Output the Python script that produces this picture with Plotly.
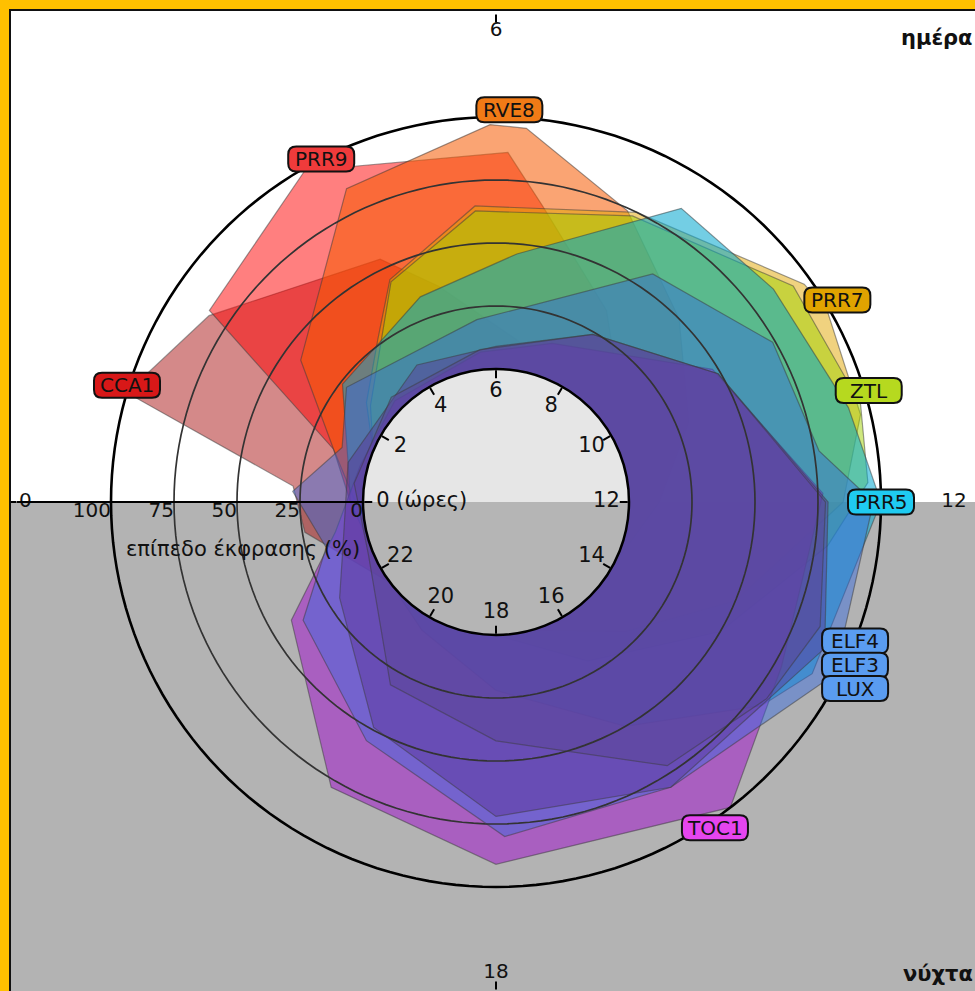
import math
import plotly.graph_objects as go

# ---------------- data: relative expression (% of peak) vs time of day (h) ----------------
GENES = ["CCA1", "PRR9", "RVE8", "PRR7", "ZTL", "PRR5", "TOC1", "LUX", "ELF3", "ELF4"]

CCA1_HOURS = [21.5, 23.4, 0.3, 1.1, 2.2, 4.3, 5.0, 6.5, 8.0, 12.0, 16.0]
CCA1_LEVEL = [0, 24, 28, 100, 83, 54, 36, 12, 0, 0, 0]

PRR9_HOURS = [22.0, 0.0, 1.2, 2.25, 4.0, 6.13, 6.6, 8.0, 9.5, 11.0, 14.0, 18.0]
PRR9_LEVEL = [0, 5, 15, 84, 99, 86, 66, 35, 10, 0, 0, 0]

RVE8_HOURS = [22.0, 0.0, 1.2, 2.4, 4.3, 5.94, 6.31, 7.62, 9.0, 10.5, 12.0, 14.0, 18.0]
RVE8_LEVEL = [0, 3, 15, 43, 85, 97, 96, 74, 50, 30, 12, 0, 0]

PRR7_HOURS = [1.5, 2.5, 3.6, 4.3, 5.73, 7.73, 9.65, 10.0, 11.1, 12.0, 13.5, 15.0, 17.0, 21.0]
PRR7_LEVEL = [0, 12, 27, 45, 65, 75, 97, 99, 96, 85, 50, 20, 0, 0]

ZTL_HOURS = [1.5, 2.5, 3.6, 4.3, 5.73, 7.7, 9.6, 11.0, 11.8, 12.5, 14.0, 16.0, 18.0, 22.0]
ZTL_LEVEL = [0, 10, 25, 44, 63, 73, 93, 97, 95, 80, 50, 20, 0, 0]

PRR5_HOURS = [22.0, 0.0, 1.0, 2.5, 4.65, 6.32, 8.15, 9.5, 11.0, 12.0, 13.9, 14.5, 16.0, 18.0, 20.0]
PRR5_LEVEL = [0, 5, 8, 24, 34, 46, 85, 86, 92, 100, 90, 80, 50, 22, 6]

TOC1_HOURS = [1.0, 3.0, 5.6, 7.3, 9.9, 11.9, 14.0, 15.5, 18.0, 20.0, 22.0, 23.3]
TOC1_LEVEL = [3, 4, 7, 14, 48, 77, 78, 100, 91, 78, 41, 12]

LUX_HOURS = [23.0, 0.2, 1.3, 2.5, 5.6, 8.3, 10.0, 11.4, 12.0, 13.8, 15.9, 17.9, 19.9, 21.9]
LUX_LEVEL = [17, 28, 12, 22, 20, 57, 74, 77, 97, 98, 80, 80, 55, 37]

ELF3_HOURS = [23.0, 1.0, 4.0, 6.0, 8.0, 10.0, 12.0, 13.6, 15.9, 18.0, 19.9, 21.9]
ELF3_LEVEL = [10, 8, 10, 9, 24, 49, 79, 90, 80, 72, 49, 20]

ELF4_HOURS = [22.5, 0.5, 3.0, 5.6, 8.0, 10.0, 12.0, 13.4, 14.4, 15.8, 18.0, 20.0]
ELF4_LEVEL = [2, 4, 6, 8, 24, 49, 78, 85, 80, 72, 42, 31]

SERIES = {
    "CCA1": (CCA1_HOURS, CCA1_LEVEL),
    "PRR9": (PRR9_HOURS, PRR9_LEVEL),
    "RVE8": (RVE8_HOURS, RVE8_LEVEL),
    "PRR7": (PRR7_HOURS, PRR7_LEVEL),
    "ZTL": (ZTL_HOURS, ZTL_LEVEL),
    "PRR5": (PRR5_HOURS, PRR5_LEVEL),
    "TOC1": (TOC1_HOURS, TOC1_LEVEL),
    "LUX": (LUX_HOURS, LUX_LEVEL),
    "ELF3": (ELF3_HOURS, ELF3_LEVEL),
    "ELF4": (ELF4_HOURS, ELF4_LEVEL),
}

HOUR_TICKS = [0, 2, 4, 6, 8, 10, 12, 14, 16, 18, 20, 22]
HOUR_TEXT = ["0 (ώρες)", "2", "4", "6", "8", "10", "12", "14", "16", "18", "20", "22"]
LEVEL_TICKS = [0, 25, 50, 75, 100]
LEVEL_TEXT = ["0", "25", "50", "75", "100"]
CLOCK_TICKS = [0, 6, 12, 18]
CLOCK_TEXT = ["0", "6", "12", "18"]

# ---------------- styling ----------------
FILL = {
    "CCA1": "rgba(170,20,20,0.50)",
    "PRR9": "rgba(255,0,0,0.50)",
    "RVE8": "rgba(245,90,0,0.55)",
    "PRR7": "rgba(225,165,0,0.50)",
    "ZTL": "rgba(160,210,0,0.50)",
    "PRR5": "rgba(0,165,205,0.55)",
    "TOC1": "rgba(165,50,200,0.65)",
    "LUX": "rgba(50,105,225,0.45)",
    "ELF3": "rgba(90,50,150,0.45)",
    "ELF4": "rgba(90,70,150,0.50)",
}
TAG = {
    "CCA1": "#d81818", "PRR9": "#ef3b3b", "RVE8": "#f07a16", "PRR7": "#e0a300",
    "ZTL": "#b6d91f", "PRR5": "#1fcbf1", "ELF4": "#5a9cf0", "ELF3": "#5a9cf0",
    "LUX": "#5a9cf0", "TOC1": "#e545ef",
}
# where each name tag sits: (hour, % level)
TAG_AT = {
    "CCA1": (1.17, 100.8), "PRR9": (4.2, 100.0), "RVE8": (6.13, 103.0),
    "PRR7": (9.96, 104.6), "ZTL": (10.89, 101.6), "PRR5": (12.0, 100.0),
    "ELF4": (13.41, 100.0), "ELF3": (13.63, 103.7), "LUX": (13.83, 107.8),
    "TOC1": (15.74, 103.0),
}

W, H = 975, 991
CX, CY = 496, 502          # centre of the clock, px from top-left
R_IN, PX_PER_PCT = 133, 2.52
R_OUT = 479
RMAX = (R_OUT - R_IN) / PX_PER_PCT
FONT = "DejaVu Sans"
TXT = "#111111"


def deg(hours):
    return [h * 15 for h in hours]


def paper_xy(hour, pct):
    a = math.radians(180 - hour * 15)
    rad = R_IN + PX_PER_PCT * pct
    return (CX + rad * math.cos(a)) / W, 1 - (CY - rad * math.sin(a)) / H


fig = go.Figure()

# expression polygons
for g in GENES:
    hrs, lvl = SERIES[g]
    fig.add_trace(go.Scatterpolar(
        r=lvl + lvl[:1], theta=deg(hrs + hrs[:1]), mode="lines", fill="toself",
        fillcolor=FILL[g], line=dict(color="rgba(60,60,60,0.5)", width=1.2),
        subplot="polar", hoverinfo="skip", showlegend=False, name=g))

# level rings drawn over the polygons
ring_theta = list(range(0, 361, 2))
for lv in [25, 50, 75]:
    fig.add_trace(go.Scatterpolar(
        r=[lv] * len(ring_theta), theta=ring_theta, mode="lines",
        line=dict(color="#333333", width=1.7), subplot="polar",
        hoverinfo="skip", showlegend=False))
fig.add_trace(go.Scatterpolar(
    r=[100] * len(ring_theta), theta=ring_theta, mode="lines",
    line=dict(color="#000000", width=2.6), subplot="polar",
    hoverinfo="skip", showlegend=False))

# level tick labels along the 0 h axis
fig.add_trace(go.Scatterpolar(
    r=LEVEL_TICKS, theta=[0] * len(LEVEL_TICKS), mode="text", text=LEVEL_TEXT,
    textposition="bottom left", textfont=dict(family=FONT, size=20, color=TXT),
    subplot="polar", cliponaxis=False, hoverinfo="skip", showlegend=False))

# outer clock labels
fig.add_trace(go.Scatterpolar(
    r=[134] * len(CLOCK_TICKS), theta=deg(CLOCK_TICKS), mode="text", text=CLOCK_TEXT,
    textposition=["middle center", "middle center", "middle left", "middle center"],
    textfont=dict(family=FONT, size=20, color=TXT),
    subplot="polar", cliponaxis=False, hoverinfo="skip", showlegend=False))

# inner dial: day / night halves
fig.add_trace(go.Barpolar(
    r=[1, 1], theta=[90, 270], width=[180, 180],
    marker=dict(color=["#e6e6e6", "#b5b5b5"], line=dict(width=0)),
    subplot="polar2", hoverinfo="skip", showlegend=False))
fig.add_trace(go.Scatterpolar(
    r=[0.9] + [0.83] * (len(HOUR_TICKS) - 1), theta=deg(HOUR_TICKS), mode="text",
    text=HOUR_TEXT, textposition=["middle right"] + ["middle center"] * (len(HOUR_TICKS) - 1),
    textfont=dict(family=FONT, size=21, color=TXT),
    subplot="polar2", cliponaxis=False, hoverinfo="skip", showlegend=False))

# name tags: rounded boxes + text
box = ("M -25,-12.5 L 25,-12.5 Q 33,-12.5 33,-4.5 L 33,4.5 Q 33,12.5 25,12.5 "
       "L -25,12.5 Q -33,12.5 -33,4.5 L -33,-4.5 Q -33,-12.5 -25,-12.5 Z")
shapes = [
    # night half of the page
    dict(type="rect", xref="paper", yref="paper", x0=0, x1=1, y0=0, y1=1 - CY / H,
         fillcolor="#b3b3b3", line=dict(width=0), layer="below"),
    # frame
    dict(type="rect", xref="paper", yref="paper", x0=0, x1=1, y0=1 - 9 / H, y1=1,
         fillcolor="#ffc000", line=dict(width=0), layer="above"),
    dict(type="rect", xref="paper", yref="paper", x0=0, x1=9 / W, y0=0, y1=1,
         fillcolor="#ffc000", line=dict(width=0), layer="above"),
    dict(type="line", xref="paper", yref="paper", x0=9 / W, x1=1, y0=1 - 10 / H, y1=1 - 10 / H,
         line=dict(color="#111", width=2), layer="above"),
    dict(type="line", xref="paper", yref="paper", x0=10 / W, x1=10 / W, y0=0, y1=1 - 10 / H,
         line=dict(color="#111", width=2), layer="above"),
]
annotations = []
for g in ["CCA1", "PRR9", "RVE8", "PRR7", "ZTL", "PRR5", "ELF4", "ELF3", "LUX", "TOC1"]:
    x, y = paper_xy(*TAG_AT[g])
    shapes.append(dict(type="path", xref="paper", yref="paper", xsizemode="pixel",
                       ysizemode="pixel", xanchor=x, yanchor=y, path=box,
                       fillcolor=TAG[g], line=dict(color="#111", width=2), layer="above"))
    annotations.append(dict(x=x, y=y, xref="paper", yref="paper", text=g, showarrow=False,
                            font=dict(family=FONT, size=20, color=TXT),
                            xanchor="center", yanchor="middle"))

annotations += [
    dict(x=(CX - 253) / W, y=1 - 549 / H, xref="paper", yref="paper",
         text="επίπεδο έκφρασης (%)", showarrow=False,
         font=dict(family=FONT, size=21, color=TXT), xanchor="center", yanchor="middle"),
    dict(x=1.0, y=1 - 38 / H, xref="paper", yref="paper", text="<b>ημέρα</b>",
         showarrow=False, font=dict(family=FONT, size=21, color=TXT),
         xanchor="right", yanchor="middle"),
    dict(x=1.0, y=1 - 974 / H, xref="paper", yref="paper", text="<b>νύχτα</b>",
         showarrow=False, font=dict(family=FONT, size=21, color=TXT),
         xanchor="right", yanchor="middle"),
]

fig.update_layout(
    width=W, height=H, autosize=False,
    margin=dict(l=0, r=0, t=0, b=0, pad=0),
    paper_bgcolor="#ffffff", plot_bgcolor="rgba(0,0,0,0)",
    showlegend=False,
    polar=dict(
        domain=dict(x=[(CX - R_OUT) / W, min(1, (CX + R_OUT) / W)],
                    y=[(H - CY - R_OUT) / H, (H - CY + R_OUT) / H]),
        hole=R_IN / R_OUT,
        bgcolor="rgba(0,0,0,0)",
        radialaxis=dict(range=[0, RMAX], showticklabels=False, ticks="", showgrid=False,
                        showline=True, linecolor="#000", linewidth=2, angle=180,
                        layer="above traces"),
        angularaxis=dict(rotation=180, direction="clockwise", showgrid=False,
                         showline=False, showticklabels=False, ticks="outside",
                         tickmode="array", tickvals=deg(CLOCK_TICKS), ticklen=8,
                         tickwidth=1.5, tickcolor="#000", layer="above traces"),
    ),
    polar2=dict(
        domain=dict(x=[(CX - R_IN) / W, (CX + R_IN) / W],
                    y=[(H - CY - R_IN) / H, (H - CY + R_IN) / H]),
        bgcolor="rgba(0,0,0,0)",
        radialaxis=dict(visible=False, range=[0, 1]),
        angularaxis=dict(rotation=180, direction="clockwise", showgrid=False,
                         showline=True, linecolor="#000", linewidth=2.5,
                         showticklabels=False, ticks="inside", tickmode="array",
                         tickvals=deg(HOUR_TICKS), ticklen=8, tickwidth=1.5,
                         tickcolor="#000", layer="above traces"),
    ),
    shapes=shapes,
    annotations=annotations,
)

fig.write_html("out.html")
